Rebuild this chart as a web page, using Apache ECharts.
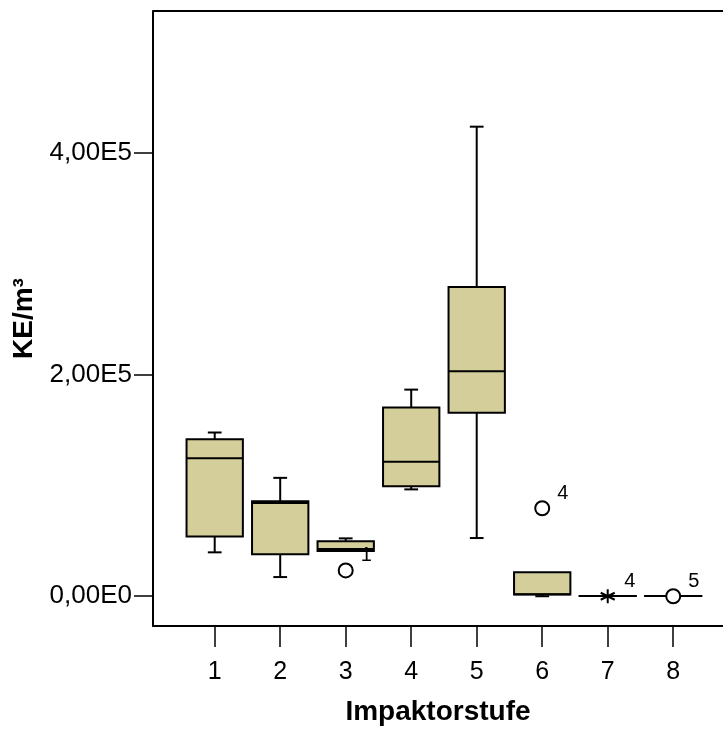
<!DOCTYPE html>
<html>
<head>
<meta charset="utf-8">
<script src="https://cdn.jsdelivr.net/npm/echarts@6/dist/echarts.min.js"></script>
<style>
  html, body { margin: 0; padding: 0; background: #fff; }
  #chart { width: 723px; height: 731px; }
</style>
</head>
<body>
<div id="chart"></div>
<script>
// Impaktorstufen (x positions)
var categories = [1, 2, 3, 4, 5, 6, 7, 8];
// box statistics per stage: [min, q1, median, q3, max]
var boxMin    = [39600, 17300, 40900,  96400,  52500,     0, 200, 200];
var boxQ1     = [54000, 37900, 40900,  99300, 165600,  1600, 250, 250];
var boxMedian = [124400, 84000, 42700, 121400, 202900, 1700, 270, 270];
var boxQ3     = [141700, 85600, 49500, 170300, 279000, 21700, 300, 300];
var boxMax    = [147700, 106800, 52200, 186400, 423600, 21700, 300, 300];
// outliers: stage, value, case label
var circleOutliers = [[3, 23300, '1'], [6, 79400, '4'], [8, 0, '5']];
var starOutliers = [[7, 0, '4']];
// y axis ticks
var yTickValues = [0, 200000, 400000];
var yTickLabels = ['0,00E0', '2,00E5', '4,00E5'];

var boxData = categories.map(function (c, i) {
  return [c, boxMin[i], boxQ1[i], boxMedian[i], boxQ3[i], boxMax[i]];
});

var chart = echarts.init(document.getElementById('chart'));

function renderBox(params, api) {
  var x = api.value(0);
  var pMin = api.coord([x, api.value(1)]);
  var pQ1 = api.coord([x, api.value(2)]);
  var pMed = api.coord([x, api.value(3)]);
  var pQ3 = api.coord([x, api.value(4)]);
  var pMax = api.coord([x, api.value(5)]);
  var half = api.size([0.86, 0])[0] / 2;
  var cap = api.size([0.21, 0])[0] / 2;
  var cx = pMed[0];
  var line = { stroke: '#000', lineWidth: 2 };
  var children = [];
  if (pMax[1] < pQ3[1] - 0.5) {
    children.push({ type: 'line', shape: { x1: cx, y1: pQ3[1], x2: cx, y2: pMax[1] }, style: line });
    children.push({ type: 'line', shape: { x1: cx - cap, y1: pMax[1], x2: cx + cap, y2: pMax[1] }, style: line });
  }
  if (pMin[1] > pQ1[1] + 0.5) {
    children.push({ type: 'line', shape: { x1: cx, y1: pQ1[1], x2: cx, y2: pMin[1] }, style: line });
    children.push({ type: 'line', shape: { x1: cx - cap, y1: pMin[1], x2: cx + cap, y2: pMin[1] }, style: line });
  }
  children.push({
    type: 'rect',
    shape: { x: cx - half, y: pQ3[1], width: half * 2, height: pQ1[1] - pQ3[1] },
    style: { fill: '#d3ce9a', stroke: '#000', lineWidth: 2 }
  });
  children.push({ type: 'line', shape: { x1: cx - half, y1: pMed[1], x2: cx + half, y2: pMed[1] }, style: line });
  return { type: 'group', children: children };
}

var outlierLabel = {
  show: true,
  position: 'right',
  offset: [2, -15],
  formatter: function (p) { return p.value[2]; },
  color: '#000',
  fontSize: 20,
  fontFamily: 'Arial, "Liberation Sans", sans-serif'
};

chart.setOption({
  animation: false,
  grid: { left: 153, right: 0, top: 11, bottom: 100 },
  xAxis: {
    type: 'value',
    min: 0.058,
    max: 8.76,
    name: 'Impaktorstufe',
    nameLocation: 'middle',
    nameGap: 72,
    nameTextStyle: { color: '#000', fontSize: 28, fontWeight: 'bold', fontFamily: 'Arial, "Liberation Sans", sans-serif' },
    axisLine: { show: true, onZero: false, lineStyle: { color: '#000', width: 2 } },
    axisTick: { show: true, length: 21, customValues: categories, lineStyle: { color: '#000', width: 1.5 } },
    axisLabel: {
      customValues: categories,
      margin: 34,
      color: '#000',
      fontSize: 25,
      fontFamily: 'Arial, "Liberation Sans", sans-serif'
    },
    splitLine: { show: false }
  },
  yAxis: {
    type: 'value',
    min: -26850,
    max: 527960,
    name: 'KE/m³',
    nameLocation: 'middle',
    nameGap: 112,
    nameRotate: 90,
    nameTextStyle: { color: '#000', fontSize: 28, fontWeight: 'bold', fontFamily: 'Arial, "Liberation Sans", sans-serif' },
    axisLine: { show: true, lineStyle: { color: '#000', width: 2 } },
    axisTick: { show: true, length: 19, customValues: yTickValues, lineStyle: { color: '#000', width: 1.5 } },
    axisLabel: {
      customValues: yTickValues,
      margin: 21,
      color: '#000',
      fontSize: 26,
      fontFamily: 'Arial, "Liberation Sans", sans-serif',
      formatter: function (v) {
        var i = yTickValues.indexOf(v);
        return i >= 0 ? yTickLabels[i] : '';
      }
    },
    splitLine: { show: false }
  },
  graphic: [{
    type: 'line',
    shape: { x1: 153, y1: 11, x2: 723, y2: 11 },
    style: { stroke: '#000', lineWidth: 2 }
  }],
  series: [
    {
      type: 'custom',
      renderItem: renderBox,
      data: boxData,
      encode: { x: 0, y: [1, 2, 3, 4, 5] },
      z: 2
    },
    {
      type: 'scatter',
      data: circleOutliers,
      symbol: 'circle',
      symbolSize: 14,
      itemStyle: { color: '#fff', borderColor: '#000', borderWidth: 2, opacity: 1 },
      label: outlierLabel,
      z: 3
    },
    {
      type: 'scatter',
      data: starOutliers,
      symbol: 'path://M0,-6L0,6M-5.2,-3L5.2,3M-5.2,3L5.2,-3',
      symbolSize: 14,
      itemStyle: { color: 'none', borderColor: '#000', borderWidth: 2, opacity: 1 },
      label: outlierLabel,
      z: 3
    }
  ]
});
</script>
</body>
</html>
